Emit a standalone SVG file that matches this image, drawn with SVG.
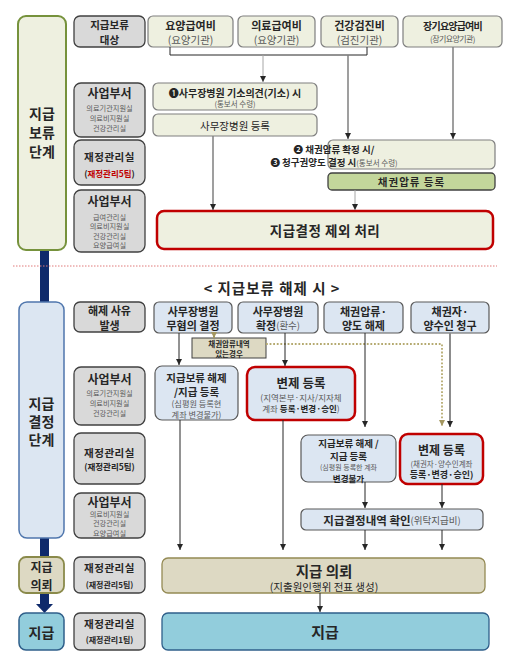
<svg xmlns="http://www.w3.org/2000/svg" width="510" height="671" viewBox="0 0 510 671">
<defs>
<style>
text{font-family:"Noto Sans CJK KR","Noto Sans",sans-serif;text-anchor:middle;dominant-baseline:central;fill:#262626}
.b{font-weight:bold}
.g{fill:#595959;font-weight:normal}
.lbl{fill:#d9d9d9;stroke:#404040;stroke-width:1.3}
.bx1{fill:#eef0e0;stroke:#7f7f7f;stroke-width:1.2}
.bx2{fill:#dce6f2;stroke:#595959;stroke-width:1.2}
.red1{fill:#eef0e0;stroke:#c00000;stroke-width:2.5}
.red2{fill:#dce6f2;stroke:#c00000;stroke-width:2.5}
.ln{fill:none;stroke:#262626;stroke-width:1}
.lg{fill:none;stroke:#7f7f7f;stroke-width:1.5}
.nav{fill:#0f2a6b}
</style>
<marker id="ah" viewBox="0 0 10 10" refX="10" refY="5" markerWidth="6" markerHeight="6" markerUnits="userSpaceOnUse" orient="auto"><path d="M0,0L10,5L0,10z" fill="#262626"/></marker>
<marker id="ahk" viewBox="0 0 10 10" refX="10" refY="5" markerWidth="6" markerHeight="6" markerUnits="userSpaceOnUse" orient="auto"><path d="M0,0L10,5L0,10z" fill="#a39660"/></marker>
</defs>
<rect width="510" height="671" fill="#ffffff"/>

<!-- stage column -->
<g id="stage-hold">
<rect class="nav" x="40" y="248" width="9" height="56"/>
<rect x="18" y="16" width="48" height="234" rx="8" fill="#eef0e0" stroke="#76923c" stroke-width="2"/>
<text class="b" font-size="14"><tspan x="42" y="113">지급</tspan><tspan x="42" y="132">보류</tspan><tspan x="42" y="151">단계</tspan></text>
</g>
<g id="stage-decide">
<rect class="nav" x="40" y="536" width="9" height="23"/>
<rect x="19" y="302" width="45" height="236" rx="8" fill="#dce6f2" stroke="#4f76ad" stroke-width="1.5"/>
<text class="b" font-size="14"><tspan x="41.5" y="403">지급</tspan><tspan x="41.5" y="421">결정</tspan><tspan x="41.5" y="439">단계</tspan></text>
</g>
<g id="stage-request">
<rect class="nav" x="40" y="591" width="9" height="14"/>
<path class="nav" d="M36,604L53,604L44.5,613z"/>
<rect x="19" y="557" width="45" height="36" rx="7" fill="#ddd9c3" stroke="#8a8a4a" stroke-width="1.8"/>
<text class="b" font-size="12"><tspan x="41.5" y="566">지급</tspan><tspan x="41.5" y="584">의뢰</tspan></text>
</g>
<g id="stage-pay">
<rect x="19" y="613" width="45" height="37" rx="7" fill="#92cddc" stroke="#2f5f8a" stroke-width="1.5"/>
<text class="b" x="41.5" y="631.5" font-size="14">지급</text>
</g>

<!-- row labels -->
<g id="lbl-target"><rect class="lbl" x="74" y="16" width="71" height="31" rx="6"/>
<text class="b" font-size="10.5"><tspan x="109.5" y="24">지급보류</tspan><tspan x="109.5" y="39">대상</tspan></text></g>
<g id="lbl-dept1"><rect class="lbl" x="74" y="83" width="71" height="54" rx="7"/>
<text class="b" x="109.5" y="92" font-size="12">사업부서</text>
<text class="g" font-size="7.2"><tspan x="109.5" y="108">의료기관지원실</tspan><tspan x="109.5" y="118">의료비지원실</tspan><tspan x="109.5" y="128">건강관리실</tspan></text></g>
<g id="lbl-fin1"><rect class="lbl" x="74" y="140" width="71" height="45" rx="7"/>
<text class="b" x="109.5" y="156" font-size="10.5" letter-spacing="0.5">재정관리실</text>
<text class="b" x="109.5" y="173" font-size="8.5">(<tspan fill="#c00000">재정관리5팀</tspan>)</text></g>
<g id="lbl-dept2"><rect class="lbl" x="74" y="190" width="71" height="62" rx="7"/>
<text class="b" x="109.5" y="200" font-size="12">사업부서</text>
<text class="g" font-size="7.2"><tspan x="109.5" y="216.5">급여관리실</tspan><tspan x="109.5" y="226">의료비지원실</tspan><tspan x="109.5" y="235.5">건강관리실</tspan><tspan x="109.5" y="245">요양급여실</tspan></text></g>

<g id="lbl-reason"><rect class="lbl" x="74" y="302" width="71" height="30" rx="6"/>
<text class="b" font-size="11"><tspan x="109.5" y="310">해제 사유</tspan><tspan x="109.5" y="325">발생</tspan></text></g>
<g id="lbl-dept3"><rect class="lbl" x="74" y="367" width="71" height="58" rx="7"/>
<text class="b" x="109.5" y="378" font-size="12">사업부서</text>
<text class="g" font-size="7.2"><tspan x="109.5" y="393">의료기관지원실</tspan><tspan x="109.5" y="403">의료비지원실</tspan><tspan x="109.5" y="413">건강관리실</tspan></text></g>
<g id="lbl-fin2"><rect class="lbl" x="74" y="433" width="71" height="51" rx="7"/>
<text class="b" x="109.5" y="452" font-size="10.5" letter-spacing="0.5">재정관리실</text>
<text class="b" x="109.5" y="466" font-size="8.5">(재정관리5팀)</text></g>
<g id="lbl-dept4"><rect class="lbl" x="74" y="493" width="71" height="45" rx="7"/>
<text class="b" x="109.5" y="501" font-size="12">사업부서</text>
<text class="g" font-size="7.2"><tspan x="109.5" y="513.5">의료비지원실</tspan><tspan x="109.5" y="523">건강관리실</tspan><tspan x="109.5" y="532.5">요양급여실</tspan></text></g>
<g id="lbl-fin3"><rect class="lbl" x="74" y="557" width="71" height="36" rx="6"/>
<text class="b" x="109.5" y="567.5" font-size="10.5" letter-spacing="0.5">재정관리실</text>
<text class="b" x="109.5" y="584" font-size="8">(재정관리5팀)</text></g>
<g id="lbl-fin4"><rect class="lbl" x="74" y="613" width="71" height="37" rx="6"/>
<text class="b" x="109.5" y="623" font-size="10.5" letter-spacing="0.5">재정관리실</text>
<text class="b" x="109.5" y="639.5" font-size="8">(재정관리1팀)</text></g>

<!-- section 1 nodes -->
<g id="n-yoyang"><rect class="bx1" x="148" y="16" width="85" height="31" rx="5"/>
<text class="b" x="190.5" y="25" font-size="11">요양급여비</text><text class="g" x="190.5" y="39" font-size="10.5">(요양기관)</text></g>
<g id="n-uiryo"><rect class="bx1" x="238" y="16" width="77" height="31" rx="5"/>
<text class="b" x="276.5" y="25" font-size="11">의료급여비</text><text class="g" x="276.5" y="39" font-size="10.5">(요양기관)</text></g>
<g id="n-checkup"><rect class="bx1" x="321" y="16" width="77" height="31" rx="5"/>
<text class="b" x="359.5" y="25" font-size="11">건강검진비</text><text class="g" x="359.5" y="39" font-size="10.5">(검진기관)</text></g>
<g id="n-ltc"><rect class="bx1" x="403" y="16" width="99" height="31" rx="5"/>
<text class="b" x="452.5" y="25" font-size="10" letter-spacing="-0.8">장기요양급여비</text><text class="g" x="452.5" y="38" font-size="8" letter-spacing="-0.6">(장기요양기관)</text></g>

<g id="n-case1"><rect class="bx1" x="153" y="83" width="164" height="27" rx="5"/>
<text class="b" x="235" y="92" font-size="10">❶사무장병원 기소의견(기소) 시</text>
<text class="g" x="235" y="103.5" font-size="7.5">(통보서 수령)</text></g>
<g id="n-reg1"><rect class="bx1" x="153" y="114" width="164" height="22" rx="5"/>
<text x="235" y="125" font-size="10.5" fill="#3a3a3a">사무장병원 등록</text></g>
<g id="n-case23"><rect class="bx1" x="328" y="140" width="167" height="29" rx="5"/>
<text class="b" font-size="9.5" text-anchor="start"><tspan x="334" y="148.5">❷ 채권압류 확정 시/</tspan><tspan x="334" y="162">❸ 청구권양도 결정 시</tspan><tspan class="g" font-size="7.5">(통보서 수령)</tspan></text></g>
<g id="n-seize"><rect x="328" y="173" width="167" height="17" rx="4" fill="#c3d69b" stroke="#404040" stroke-width="1.3"/>
<text class="b" x="411.5" y="181.5" font-size="10.5" letter-spacing="1">채권압류 등록</text></g>
<g id="n-exclude"><rect class="red1" x="157" y="211" width="336" height="38" rx="7"/>
<text class="b" x="325" y="230" font-size="13.5" letter-spacing="0.5">지급결정 제외 처리</text></g>

<line x1="13" y1="266" x2="497" y2="266" stroke="#e07a7a" stroke-width="1" stroke-dasharray="1.5 1.5"/>
<text id="title" class="b" x="272" y="287" font-size="14.5" letter-spacing="1">&lt; 지급보류 해제 시 &gt;</text>

<!-- section 2 nodes -->
<g id="n-nocharge"><rect class="bx2" x="154" y="302" width="78" height="31" rx="5"/>
<text class="b" font-size="11"><tspan x="193" y="310.5">사무장병원</tspan><tspan x="193" y="325">무혐의 결정</tspan></text></g>
<g id="n-confirm"><rect class="bx2" x="238" y="302" width="80" height="31" rx="5"/>
<text class="b" font-size="11"><tspan x="278" y="310.5">사무장병원</tspan><tspan x="278" y="325">확정<tspan class="g" font-size="9.5">(환수)</tspan></tspan></text></g>
<g id="n-release"><rect class="bx2" x="324" y="302" width="79" height="31" rx="5"/>
<text class="b" font-size="11"><tspan x="363.5" y="310.5">채권압류·</tspan><tspan x="363.5" y="325">양도 해제</tspan></text></g>
<g id="n-claim"><rect class="bx2" x="411" y="302" width="78" height="31" rx="5"/>
<text class="b" font-size="11"><tspan x="450" y="310.5">채권자·</tspan><tspan x="450" y="325">양수인 청구</tspan></text></g>
<g id="n-ifseized"><rect x="192" y="338" width="74" height="20" fill="#ddd9c3" stroke="#404040" stroke-width="1"/>
<text class="b" font-size="7.5" fill="#404040"><tspan x="229" y="343.3">채권압류내역</tspan><tspan x="229" y="353">있는경우</tspan></text></g>
<g id="n-unhold1"><rect class="bx2" x="155" y="366" width="83" height="54" rx="7"/>
<text class="b" font-size="10.5"><tspan x="196.5" y="377">지급보류 해제</tspan><tspan x="196.5" y="391">/지급 등록</tspan></text>
<text class="g" font-size="8.2"><tspan x="196.5" y="403">(심평원 등록현</tspan><tspan x="196.5" y="413.5">계좌 변경불가)</tspan></text></g>
<g id="n-repay1"><rect class="red2" x="247" y="367" width="108" height="53" rx="8"/>
<text class="b" x="301" y="382" font-size="12.5">변제 등록</text>
<text class="g" font-size="8.5"><tspan x="301" y="397">(지역본부·지사/지자체</tspan><tspan x="301" y="408">계좌 <tspan class="b" fill="#262626">등록·변경·승인</tspan>)</tspan></text></g>
<g id="n-unhold2"><rect class="bx2" x="301" y="435" width="95" height="47" rx="7"/>
<text class="b" font-size="9.5"><tspan x="348.5" y="442.5">지급보류 해제 /</tspan><tspan x="348.5" y="455.5">지급 등록</tspan></text>
<text font-size="7"><tspan class="g" x="348.5" y="467">(심평원 등록한 계좌</tspan><tspan class="b" font-size="8.5" x="348.5" y="477.8">변경불가</tspan></text></g>
<g id="n-repay2"><rect class="red2" x="400" y="434" width="83" height="50" rx="8"/>
<text class="b" x="441.5" y="449" font-size="12">변제 등록</text>
<text font-size="7.5"><tspan class="g" x="441.5" y="463">(채권자·양수인계좌</tspan><tspan class="b" font-size="9" x="441.5" y="473.5">등록·변경·승인)</tspan></text></g>
<g id="n-verify"><rect class="bx2" x="301" y="509" width="182" height="21" rx="5"/>
<text class="b" x="392" y="519.5" font-size="11.5">지급결정내역 확인<tspan class="g" font-size="9.5">(위탁지급비)</tspan></text></g>
<g id="n-request"><rect x="162" y="558" width="323" height="35" rx="6" fill="#ddd9c3" stroke="#948a54" stroke-width="1.3"/>
<text class="b" x="324" y="570" font-size="14.5">지급 의뢰</text>
<text x="324" y="586.5" font-size="10.5" fill="#3a3a3a">(지출원인행위 전표 생성)</text></g>
<g id="n-pay"><rect x="162" y="613" width="327" height="37" rx="6" fill="#92cddc" stroke="#2f5f8a" stroke-width="1.3"/>
<text class="b" x="325" y="631.5" font-size="15">지급</text></g>

<!-- connectors -->
<g id="connectors">
<path class="ln" d="M170,47V55H367V47" stroke="#404040" stroke-width="1.2"/>
<line x1="263" y1="55" x2="263" y2="82" stroke="#a6a6a6" stroke-width="1" marker-end="url(#ah)"/>
<line x1="348" y1="55" x2="348" y2="139" class="lg" stroke="#6f6f6f" marker-end="url(#ah)"/>
<line x1="453" y1="47" x2="453" y2="139" class="lg" stroke="#8c8c8c" marker-end="url(#ah)"/>
<line x1="213" y1="136" x2="213" y2="210" class="lg" stroke="#6f6f6f" marker-end="url(#ah)"/>
<line x1="355" y1="190" x2="355" y2="210" stroke="#a6a6a6" stroke-width="1" marker-end="url(#ah)"/>

<line x1="214" y1="333" x2="214" y2="338" stroke="#a39660" stroke-width="2" marker-end="url(#ahk)"/>
<path d="M266,344H442V426" fill="none" stroke="#b5aa70" stroke-width="1.8" stroke-dasharray="1.8 1.8" marker-end="url(#ahk)"/>
<line class="ln" x1="179" y1="333" x2="179" y2="365" marker-end="url(#ah)"/>
<line class="ln" x1="285" y1="333" x2="285" y2="366" marker-end="url(#ah)"/>
<line class="ln" x1="365" y1="333" x2="365" y2="427" marker-end="url(#ah)"/>
<line x1="450" y1="333" x2="450" y2="427" stroke="#8c8c8c" stroke-width="2" marker-end="url(#ah)"/>
<line class="ln" x1="180" y1="420" x2="180" y2="550" marker-end="url(#ah)"/>
<line class="ln" x1="283" y1="420" x2="283" y2="550" marker-end="url(#ah)"/>
<line class="ln" x1="365" y1="482" x2="365" y2="508" marker-end="url(#ah)"/>
<line class="ln" x1="442" y1="484" x2="442" y2="508" marker-end="url(#ah)"/>
<line class="ln" x1="365" y1="530" x2="365" y2="550" marker-end="url(#ah)"/>
<line class="ln" x1="442" y1="530" x2="442" y2="550" marker-end="url(#ah)"/>
<line class="ln" x1="320" y1="593" x2="320" y2="612" marker-end="url(#ah)"/>
</g>
</svg>
